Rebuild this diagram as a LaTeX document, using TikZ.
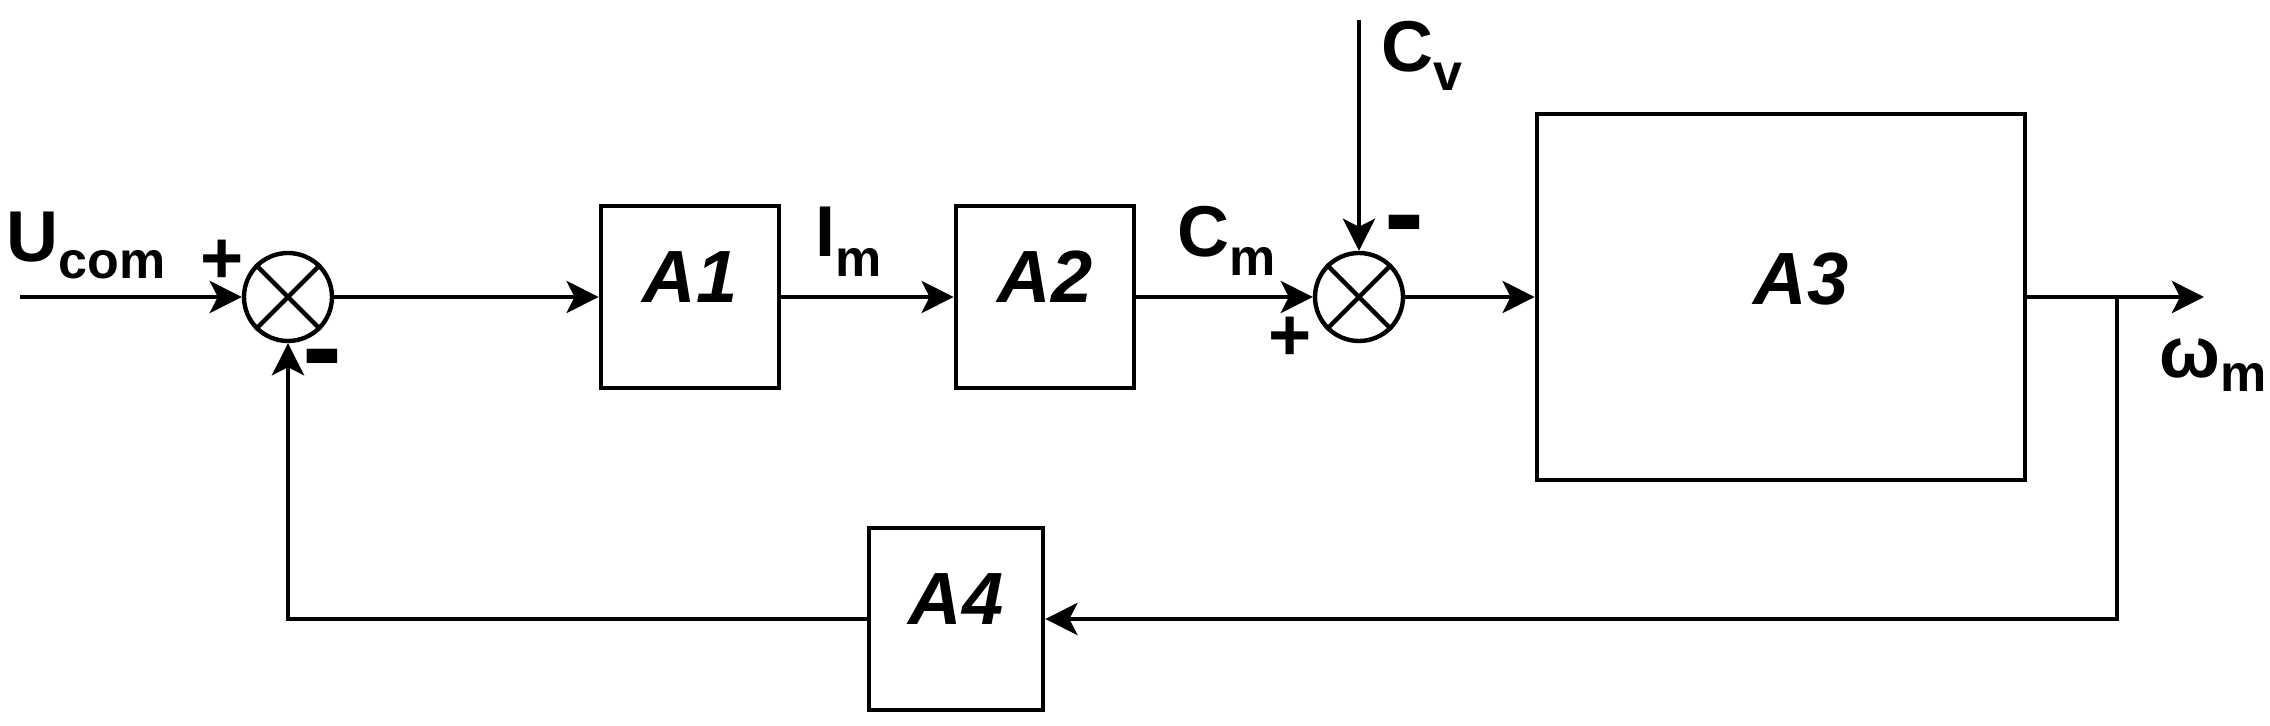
\documentclass[tikz,border=0pt]{standalone}
\usepackage{fontspec}
\setmainfont{Liberation Sans}
\usetikzlibrary{arrows.meta}
\newcommand{\mainsz}{\fontsize{36pt}{40pt}\selectfont}
\newcommand{\subsz}{\fontsize{26pt}{30pt}\selectfont}
\newcommand{\lblsub}[3][9pt]{{\mainsz\bfseries #2}\raisebox{-#1}{\subsz\bfseries #3}}
\begin{document}
\begin{tikzpicture}[x=0.5pt,y=-0.5pt,line width=2.4pt,
  >={Stealth[length=16pt,width=16pt,inset=4pt]},
  block/.style={draw,rectangle,inner sep=0pt},
  blocklbl/.style={font=\fontsize{37pt}{40pt}\selectfont\bfseries\itshape,yshift=10pt,inner sep=0pt},
  sumnode/.style={draw,circle,minimum size=44pt,inner sep=0pt,line width=2.2pt},
  plussign/.style={font=\fontsize{37pt}{40pt}\selectfont\bfseries,anchor=base,inner sep=0pt},
  minussign/.style={font=\fontsize{60pt}{60pt}\selectfont\bfseries,anchor=base,inner sep=0pt},
  lbl/.style={anchor=base west,inner sep=0pt}]
\useasboundingbox (0,0) rectangle (2270,726);

% summing junctions
\node[sumnode] (s1) at (288,297) {};
\node[sumnode] (s2) at (1359,297) {};
\draw[line width=2.2pt] (s1.45) -- (s1.225) (s1.135) -- (s1.315);
\draw[line width=2.2pt] (s2.45) -- (s2.225) (s2.135) -- (s2.315);

% blocks
\node[block,minimum width=89pt,minimum height=91pt,label={[blocklbl]center:A1}] (A1) at (690,297) {};
\node[block,minimum width=89pt,minimum height=91pt,label={[blocklbl]center:A2}] (A2) at (1045,297) {};
\node[block,minimum width=244pt,minimum height=183pt,label={[blocklbl,yshift=-1pt,xshift=10pt]center:A3}] (A3) at (1781,297) {};
\node[block,minimum width=87pt,minimum height=91pt,label={[blocklbl]center:A4}] (A4) at (956,619) {};

% free ends
\coordinate (in) at (20,297);
\coordinate (cv) at (1359,20);
\coordinate (out) at (2204,297);
\coordinate (br) at (2117,297);

% connectors
\draw[->] (in) -- (s1);
\draw[->] (s1) -- (A1);
\draw[->] (A1) -- (A2);
\draw[->] (A2) -- (s2);
\draw[->] (cv) -- (s2);
\draw[->] (s2) -- (A3);
\draw[->] (A3.east) -- (out);
\draw[->] (br) |- (A4.east);
\draw[->] (A4.west) -| (s1.south);

% signal labels
\node[lbl] (ucom) at (4,262) {\lblsub[8.5pt]{U}{com}};
\node[lbl] (im) at (813,257) {\lblsub[10pt]{I}{m}};
\node[lbl] (cm) at (1175,257) {\lblsub[9.5pt]{C}{m}};
\node[lbl] (cvl) at (1379,72) {\lblsub[9.5pt]{C}{v}};
\node[lbl] (wm) at (2157,378) {\lblsub[7pt]{ω}{m}};

% signs
\node[plussign] (p1) at (222,284) {+};
\node[minussign] (m1) at (322,388) {-};
\node[plussign] (p2) at (1290,361) {+};
\node[minussign] (m2) at (1404,254) {-};
\end{tikzpicture}
\end{document}
